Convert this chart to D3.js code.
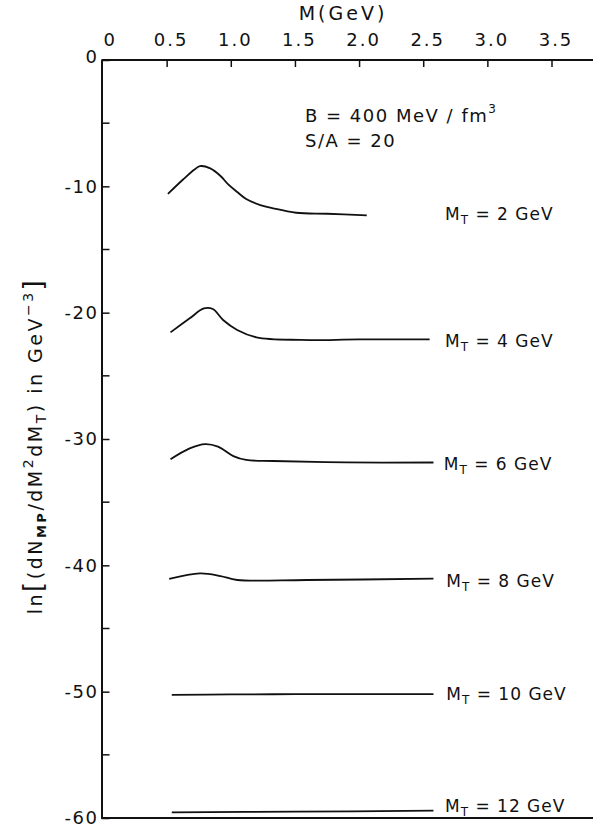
<!DOCTYPE html>
<html>
<head>
<meta charset="utf-8">
<script src="https://cdn.jsdelivr.net/npm/d3@7"></script>
<style>
  body { margin: 0; background: #fff; }
  svg { display: block; }
  text { font-family: "DejaVu Sans", sans-serif; fill: #111; }
</style>
</head>
<body>
<svg width="593" height="829"></svg>
<script>
// curve data: M in GeV, ln(dN/...) values
const mtValues = [2, 4, 6, 8, 10, 12];

const massMT2 = [0.51, 0.63, 0.72, 0.76, 0.84, 0.92, 0.98, 1.05, 1.12, 1.23, 1.33, 1.51, 1.75, 2.06];
const lnMT2   = [-10.6, -9.44, -8.65, -8.4, -8.58, -9.18, -9.85, -10.45, -11.0, -11.48, -11.74, -12.09, -12.17, -12.3];

const massMT4 = [0.53, 0.68, 0.79, 0.86, 0.94, 1.05, 1.20, 1.54, 2.0, 2.55];
const lnMT4   = [-21.56, -20.45, -19.66, -19.71, -20.58, -21.37, -21.95, -22.16, -22.12, -22.11];

const massMT6 = [0.53, 0.68, 0.80, 0.90, 1.02, 1.12, 1.33, 1.90, 2.58];
const lnMT6   = [-31.6, -30.74, -30.4, -30.6, -31.35, -31.66, -31.74, -31.85, -31.86];

const massMT8 = [0.52, 0.76, 0.92, 1.05, 1.59, 2.58];
const lnMT8   = [-41.08, -40.64, -40.85, -41.16, -41.16, -41.06];

const massMT10 = [0.54, 1.0, 1.5, 2.0, 2.58];
const lnMT10   = [-50.25, -50.22, -50.2, -50.2, -50.19];

const massMT12 = [0.54, 1.5, 2.58];
const lnMT12   = [-59.55, -59.5, -59.42];

const xTicks = [0, 0.5, 1.0, 1.5, 2.0, 2.5, 3.0, 3.5];
const yTicks = [0, -10, -20, -30, -40, -50, -60];
const yMinorTicks = [-5, -15, -25, -35, -45, -55];

// label anchor points (M, ln) for each curve
const labelM  = [2.67, 2.67, 2.66, 2.68, 2.68, 2.67];
const labelLn = [-12.1, -22.15, -31.9, -41.2, -50.1, -59.0];

const svg = d3.select("svg");
const width = +svg.attr("width");

const x = d3.scaleLinear().domain([0, 3.5]).range([102.5, 551.5]);
const y = d3.scaleLinear().domain([0, -60]).range([60, 818]);

const curves = [
  { mass: massMT2, ln: lnMT2 },
  { mass: massMT4, ln: lnMT4 },
  { mass: massMT6, ln: lnMT6 },
  { mass: massMT8, ln: lnMT8 },
  { mass: massMT10, ln: lnMT10 },
  { mass: massMT12, ln: lnMT12 }
];

// frame lines: top and bottom, running off the right edge
svg.append("line")
  .attr("x1", x(0) - 1).attr("x2", width)
  .attr("y1", y(0)).attr("y2", y(0))
  .attr("stroke", "#111").attr("stroke-width", 2);
svg.append("line")
  .attr("x1", x(0) - 1).attr("x2", width)
  .attr("y1", y(-60)).attr("y2", y(-60))
  .attr("stroke", "#111").attr("stroke-width", 2);

// top x axis
const xAxis = svg.append("g")
  .attr("transform", `translate(0,${y(0)})`)
  .call(d3.axisTop(x)
    .tickValues(xTicks.slice(1))
    .tickSizeInner(-7).tickSizeOuter(0).tickPadding(14)
    .tickFormat(d => d.toFixed(1)));
xAxis.select(".domain").remove();
xAxis.selectAll("line").attr("stroke", "#111").attr("stroke-width", 1.5);
xAxis.selectAll("text")
  .attr("dx", 4)
  .style("font-size", "18px").style("letter-spacing", "2px").attr("fill", "#111");

// "0" of the x axis sits left-aligned over the corner
svg.append("text")
  .attr("x", x(0) + 1).attr("y", y(0) - 14)
  .style("font-size", "18px")
  .text("0");

// left y axis
const yAxis = svg.append("g")
  .attr("transform", `translate(${x(0) - 1},0)`)
  .call(d3.axisLeft(y)
    .tickValues(yTicks)
    .tickSizeInner(-8).tickSizeOuter(0).tickPadding(3)
    .tickFormat(d => d === 0 ? "0" : "-" + Math.abs(d)));
yAxis.select(".domain").attr("stroke", "#111").attr("stroke-width", 2);
yAxis.selectAll("line").attr("stroke", "#111").attr("stroke-width", 1.5);
yAxis.selectAll("text")
  .style("font-size", "18px").style("letter-spacing", "1.5px").attr("fill", "#111");
yAxis.selectAll(".tick").filter(d => d === 0).select("text").attr("dy", "0.15em");

// minor y ticks
svg.append("g").selectAll("line")
  .data(yMinorTicks)
  .enter().append("line")
  .attr("x1", x(0) - 1).attr("x2", x(0) + 7)
  .attr("y1", d => y(d)).attr("y2", d => y(d))
  .attr("stroke", "#111").attr("stroke-width", 1.5);

// x axis title
svg.append("text")
  .attr("x", 343).attr("y", 20)
  .attr("text-anchor", "middle")
  .style("font-size", "19px").style("letter-spacing", "3px")
  .text("M(GeV)");

// y axis title (rotated)
const yTitle = svg.append("text")
  .attr("transform", "translate(42,446) rotate(-90)")
  .attr("text-anchor", "middle")
  .style("font-size", "19px").style("letter-spacing", "2.5px");
yTitle.append("tspan").text("ln");
yTitle.append("tspan").style("font-size", "26px").text("[");
yTitle.append("tspan").text("(dN");
yTitle.append("tspan").attr("dy", 4).style("font-size", "13px").style("font-weight", "bold").text("MP");
yTitle.append("tspan").attr("dy", -4).text("/dM");
yTitle.append("tspan").attr("dy", -9).style("font-size", "14px").text("2");
yTitle.append("tspan").attr("dy", 9).text("dM");
yTitle.append("tspan").attr("dy", 4).style("font-size", "14px").text("T");
yTitle.append("tspan").attr("dy", -4).text(") in GeV");
yTitle.append("tspan").attr("dy", -9).style("font-size", "14px").text("−3");
yTitle.append("tspan").attr("dy", 9).style("font-size", "26px").text("]");

// parameter annotation
svg.append("text")
  .attr("x", 305).attr("y", 122)
  .style("font-size", "18px").style("letter-spacing", "1.5px")
  .call(t => {
    t.append("tspan").text("B = 400 MeV / fm");
    t.append("tspan").attr("dy", -9).style("font-size", "12px").text("3");
  });
svg.append("text")
  .attr("x", 305).attr("y", 147)
  .style("font-size", "18px").style("letter-spacing", "1.5px")
  .text("S/A = 20");

// curves
const line = d3.line()
  .x(d => x(d[0]))
  .y(d => y(d[1]))
  .curve(d3.curveCatmullRom.alpha(0.5));

svg.append("g").selectAll("path")
  .data(curves)
  .enter().append("path")
  .attr("d", c => line(c.mass.map((m, i) => [m, c.ln[i]])))
  .attr("fill", "none")
  .attr("stroke", "#111")
  .attr("stroke-width", 1.8);

// curve labels
mtValues.forEach((mt, i) => {
  const t = svg.append("text")
    .attr("x", x(labelM[i])).attr("y", y(labelLn[i]) + 7)
    .style("font-size", "17px").style("letter-spacing", "1px");
  t.append("tspan").text("M");
  t.append("tspan").attr("dy", 4).style("font-size", "12px").text("T");
  t.append("tspan").attr("dy", -4).text(` = ${mt} GeV`);
});
</script>
</body>
</html>
